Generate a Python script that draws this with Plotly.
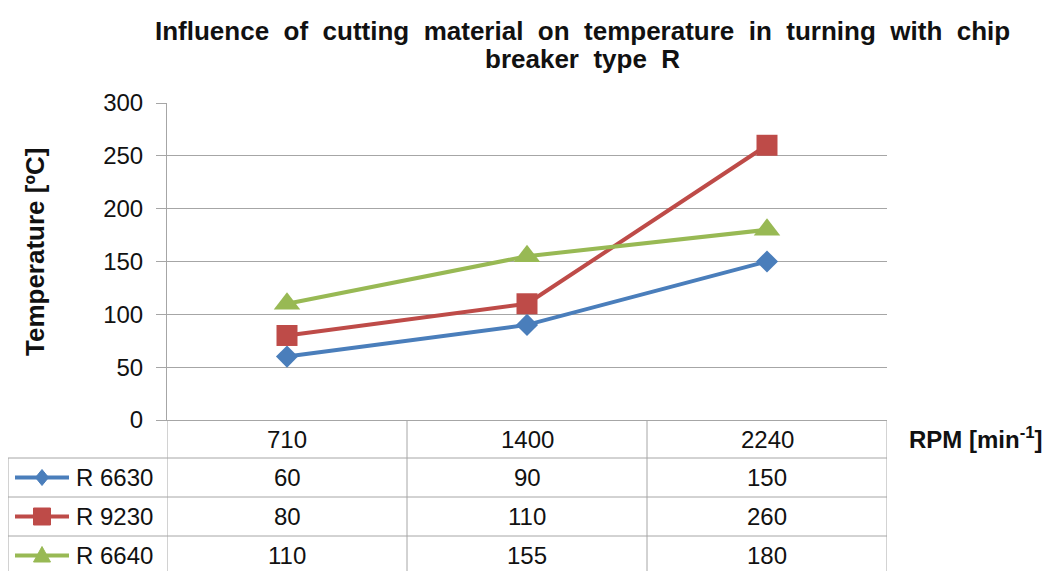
import plotly.graph_objects as go

# ---------------- data ----------------
categories = ["710", "1400", "2240"]
series_names = ["R 6630", "R 9230", "R 6640"]
r6630 = [60, 90, 150]
r9230 = [80, 110, 260]
r6640 = [110, 155, 180]
series_values = [r6630, r9230, r6640]

title_lines = ["Influence  of  cutting  material  on  temperature  in  turning  with  chip",
               "breaker  type  R"]
y_title = "Temperature [ºC]"
x_title = "RPM [min<sup>-1</sup>]"
y_ticks = [0, 50, 100, 150, 200, 250, 300]

# ---------------- styles ----------------
colors = ["#4A7EBB", "#BE4B48", "#98B954"]
symbols = ["diamond", "square", "triangle-up"]
msizes = [17, 21, 23]
FONT = "Liberation Sans, Arial, sans-serif"
GRID = "#A6A6A6"
TXT = "#111111"

W, H = 1055, 571
OFF = 8  # page body margin in the browser
# plot area in screen pixels
SX0, SX1, SY0, SY1 = 167, 887, 103, 420
L, T = SX0 - OFF, SY0 - OFF
R, B = W - (SX1 - OFF), H - (SY1 - OFF)
PW, PH = SX1 - SX0, SY1 - SY0


def px_x(px):
    return (px - SX0) / PW


def px_y(py):
    return (SY1 - py) / PH


fig = go.Figure()
for name, vals, c, s, ms in zip(series_names, series_values, colors, symbols, msizes):
    fig.add_trace(go.Scatter(
        x=categories, y=vals, name=name, mode="lines+markers",
        line=dict(color=c, width=4),
        marker=dict(symbol=s, size=ms, color=c),
        showlegend=False,
    ))

# ---------------- data table below the plot ----------------
header_top, header_h, row_h = 420, 38, 39
table_left = 8
shapes = []
annotations = []
line_style = dict(color=GRID, width=1)

n_rows = len(series_names)
row_tops = [header_top + header_h + i * row_h for i in range(n_rows)]

for yt in row_tops:
    shapes.append(dict(type="line", xref="paper", yref="paper",
                       x0=px_x(table_left), x1=1, y0=px_y(yt), y1=px_y(yt), line=line_style))
for i in range(len(categories) + 1):
    shapes.append(dict(type="line", xref="x", yref="paper",
                       x0=i - 0.5, x1=i - 0.5, y0=px_y(header_top), y1=px_y(H + 20), line=line_style))
shapes.append(dict(type="line", xref="paper", yref="paper",
                   x0=px_x(table_left), x1=px_x(table_left), y0=px_y(row_tops[0]), y1=px_y(H + 20),
                   line=line_style))

cell_font = dict(family=FONT, size=24, color=TXT)
for i, c in enumerate(categories):
    annotations.append(dict(x=i, xref="x", y=px_y(header_top + header_h / 2), yref="paper",
                            xanchor="center", yanchor="middle",
                            text=c, showarrow=False, font=cell_font))
key_paths = {
    "diamond": "M0,-8 L6.5,0 L0,8 L-6.5,0 Z",
    "square": "M-8.5,-8.5 L8.5,-8.5 L8.5,8.5 L-8.5,8.5 Z",
    "triangle-up": "M-8.5,-6.5 L8.5,-6.5 L0,9 Z",
}
for r, (name, vals, col, sym) in enumerate(zip(series_names, series_values, colors, symbols)):
    yc = px_y(row_tops[r] + row_h / 2)
    for i, v in enumerate(vals):
        annotations.append(dict(x=i, xref="x", y=yc, yref="paper", text=str(v),
                                xanchor="center", yanchor="middle",
                                showarrow=False, font=cell_font))
    annotations.append(dict(x=px_x(74), xref="paper", y=yc, yref="paper", text=name,
                            xanchor="left", yanchor="middle", showarrow=False, font=cell_font))
    shapes.append(dict(type="line", xref="paper", yref="paper", x0=px_x(15), x1=px_x(69),
                       y0=yc, y1=yc, line=dict(color=col, width=4)))
    shapes.append(dict(type="path", xref="paper", yref="paper", xsizemode="pixel", ysizemode="pixel",
                       xanchor=px_x(42), yanchor=yc, path=key_paths[sym],
                       fillcolor=col, line=dict(color=col, width=1)))

annotations.append(dict(x=px_x(35), xref="paper", y=px_y(252), yref="paper", text=f"<b>{y_title}</b>",
                        xanchor="center", yanchor="middle",
                        textangle=-90, showarrow=False, font=dict(family=FONT, size=26, color=TXT)))
annotations.append(dict(x=px_x(907), xref="paper", y=px_y(438), yref="paper", text=f"<b>{x_title}</b>",
                        xanchor="left", yanchor="middle", showarrow=False,
                        font=dict(family=FONT, size=24, color=TXT)))
# title, two lines
for ty, line in zip([31, 59], title_lines):
    annotations.append(dict(x=px_x(582), xref="paper", y=px_y(ty), yref="paper", text=f"<b>{line}</b>",
                            xanchor="center", yanchor="middle", showarrow=False,
                            font=dict(family=FONT, size=26, color=TXT)))

fig.update_layout(
    width=W, height=H,
    margin=dict(l=L, r=R, t=T, b=B),
    paper_bgcolor="white", plot_bgcolor="white",
    xaxis=dict(type="category", showticklabels=False, showgrid=False, zeroline=False,
               showline=True, linecolor=GRID, linewidth=1, ticks="", range=[-0.5, 2.5]),
    yaxis=dict(range=[0, 300], tickvals=y_ticks, showgrid=True, gridcolor=GRID, gridwidth=1,
               zeroline=False, showline=True, linecolor=GRID, linewidth=1,
               ticks="outside", ticklen=10, tickcolor=GRID, ticklabelstandoff=8,
               tickfont=dict(family=FONT, size=24, color=TXT)),
    shapes=shapes, annotations=annotations,
)

fig.write_html("out.html")
